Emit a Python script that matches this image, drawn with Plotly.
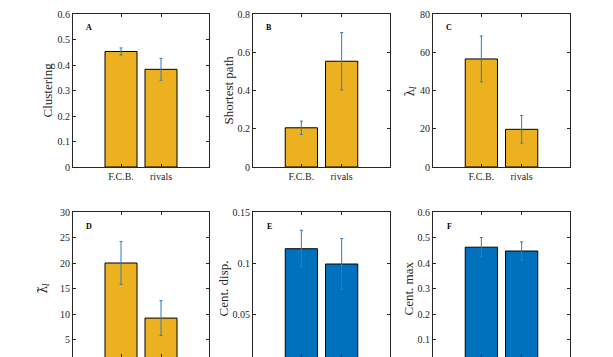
import plotly.graph_objects as go

# ---- data ----
categories = ["F.C.B.", "rivals"]
panel_letters = ["A", "B", "C", "D", "E", "F"]
y_titles = ["Clustering", "Shortest path", "λ<sub><i>l</i></sub>",
            "λ\u0303<sub><i>l</i></sub>", "Cent. disp.", "Cent. max"]
clustering = [0.453, 0.383]
clustering_err = [0.014, 0.043]
shortest_path = [0.205, 0.553]
shortest_path_err = [0.035, 0.150]
lambda_l = [56.5, 19.7]
lambda_l_err = [12.0, 7.2]
lambda_tilde = [20.0, 9.2]
lambda_tilde_err = [4.2, 3.4]
cent_disp = [0.114, 0.099]
cent_disp_err = [0.018, 0.025]
cent_max = [0.462, 0.447]
cent_max_err = [0.038, 0.036]
y_max = [0.6, 0.8, 80, 30, 0.15, 0.6]
y_dtick = [0.1, 0.2, 20, 5, 0.05, 0.1]

values = [clustering, shortest_path, lambda_l, lambda_tilde, cent_disp, cent_max]
errors = [clustering_err, shortest_path_err, lambda_l_err, lambda_tilde_err, cent_disp_err, cent_max_err]
ORANGE = "#EDB120"
BLUE = "#0072BD"
bar_colors = [ORANGE, ORANGE, ORANGE, ORANGE, BLUE, BLUE]

W, H = 613, 357
x_px = [(73, 209), (253, 390), (433, 570)]
top_px = (14, 167)
bot_top = 212
row_h = top_px[1] - top_px[0]
title_x = [47, 228, 410, 43, 223, 408]
title_fonts = ["Liberation Serif", "Liberation Serif", "DejaVu Serif",
               "DejaVu Serif", "Liberation Serif", "Liberation Serif"]
title_sizes = [13, 13, 12, 12, 13, 13]

FONT = "Liberation Serif"
fig = go.Figure()

for i in range(6):
    r, c = divmod(i, 3)
    n = i + 1
    xa = "x" if n == 1 else f"x{n}"
    ya = "y" if n == 1 else f"y{n}"
    xl, xr = x_px[c]
    xdom = [xl / W, xr / W]
    if r == 0:
        ydom = [1 - top_px[1] / H, 1 - top_px[0] / H]
        yrange = [0, y_max[i]]
        ycenter = (top_px[0] + top_px[1]) / 2
        letter_y = 28
    else:
        ydom = [0, 1 - bot_top / H]
        visible = H - bot_top
        yrange = [y_max[i] * (1 - visible / row_h), y_max[i]]
        ycenter = bot_top + row_h / 2
        letter_y = bot_top + 14
    fig.add_trace(go.Bar(
        x=[1, 2], y=values[i], width=0.8,
        marker=dict(color=bar_colors[i], line=dict(color="black", width=1)),
        error_y=dict(type="data", array=errors[i], color="#2f7fb5", thickness=1, width=1.5),
        xaxis=xa, yaxis=ya, showlegend=False, hoverinfo="skip",
    ))
    axcommon = dict(showline=True, linecolor="#262626", linewidth=1, mirror="ticks",
                    ticks="inside", ticklen=3, tickcolor="#262626", showgrid=False,
                    zeroline=False, automargin=False,
                    tickfont=dict(family=FONT, size=10, color="#262626"))
    fig.layout[("xaxis" if n == 1 else f"xaxis{n}")] = go.layout.XAxis(
        domain=xdom, anchor=ya, range=[-0.2, 3.2], tickmode="array",
        tickvals=[1, 2], ticktext=categories, showticklabels=(r == 0), **axcommon)
    fig.layout[("yaxis" if n == 1 else f"yaxis{n}")] = go.layout.YAxis(
        domain=ydom, anchor=xa, range=yrange, dtick=y_dtick[i], tick0=0, **axcommon)
    fig.add_annotation(x=title_x[i] / W, y=1 - ycenter / H, xref="paper", yref="paper",
                       text=y_titles[i], textangle=-90, showarrow=False,
                       xanchor="center", yanchor="middle",
                       font=dict(family=title_fonts[i], size=title_sizes[i], color="#262626"))
    fig.add_annotation(x=(xl + 16) / W, y=1 - letter_y / H, xref="paper", yref="paper",
                       text=f"<b>{panel_letters[i]}</b>", showarrow=False,
                       xanchor="center", yanchor="middle",
                       font=dict(family=FONT, size=8, color="black"))

fig.update_layout(width=W, height=H, margin=dict(l=0, r=0, t=0, b=0, pad=0, autoexpand=False),
                  plot_bgcolor="white", paper_bgcolor="white", bargap=0, hovermode=False)
fig.write_html("out.html", config={"displayModeBar": False, "staticPlot": True},
               post_script="document.body.style.margin='0';document.body.style.overflow='hidden';")
